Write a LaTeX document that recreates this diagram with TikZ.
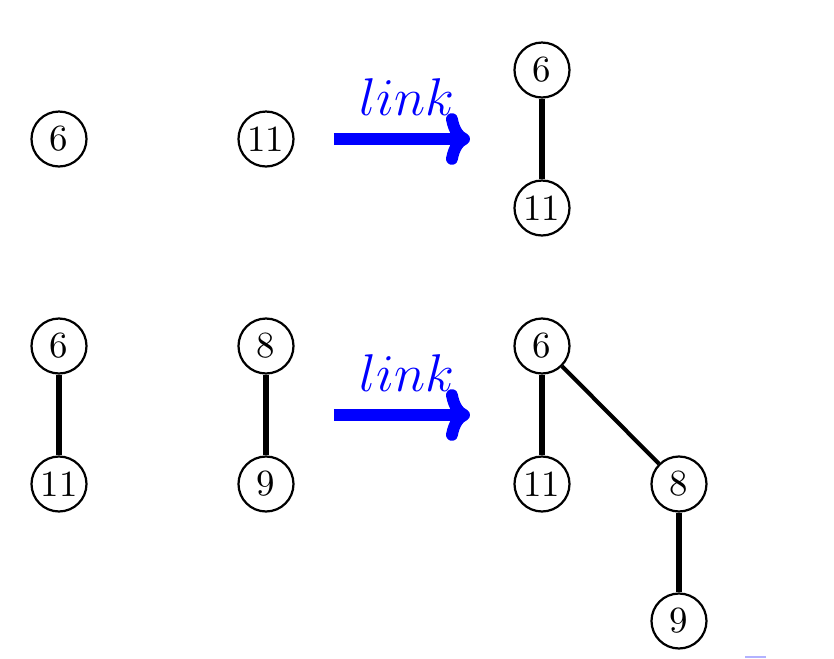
\documentclass[tikz,border=0pt]{standalone}
\usetikzlibrary{arrows.meta}
\begin{document}
\begin{tikzpicture}[x=0.271pt,y=-0.271pt,
  vert/.style={circle,draw,line width=0.6pt,minimum size=14.9pt,inner sep=0pt},
  edge/.style={line width=1.5pt},
  diagedge/.style={line width=1.1pt},
  linkarrow/.style={blue,line width=3.2pt,line cap=butt,-{To[round,length=6.5pt,width=14pt]}},
  linklabel/.style={blue,anchor=base,font=\Large}]
\useasboundingbox (0,0) rectangle (834,659);
% top row
\node[vert] (t6) at (59,139) {6};
\node[vert] (t11) at (266,139) {11};
\coordinate (ta1) at (334,139);
\coordinate (ta2) at (470,139);
\draw[linkarrow] (ta1) -- (ta2);
\node[linklabel] (tl) at (407,115) {$link$};
\node[vert] (r6) at (542,70) {6};
\node[vert] (r11) at (542,208) {11};
\draw[edge] (r6) -- (r11);
% bottom row
\node[vert] (b6) at (59,346) {6};
\node[vert] (b11) at (59,484) {11};
\draw[edge] (b6) -- (b11);
\node[vert] (b8) at (266,346) {8};
\node[vert] (b9) at (266,484) {9};
\draw[edge] (b8) -- (b9);
\coordinate (ba1) at (334,415);
\coordinate (ba2) at (470,415);
\draw[linkarrow] (ba1) -- (ba2);
\node[linklabel] (bl) at (407,391) {$link$};
\node[vert] (s6) at (542,346) {6};
\node[vert] (s11) at (542,484) {11};
\node[vert] (s8) at (679,484) {8};
\node[vert] (s9) at (679,621) {9};
\draw[edge] (s6) -- (s11);
\draw[diagedge] (s6) -- (s8);
\draw[edge] (s8) -- (s9);
% small mark
\fill[blue!30!white] (745,656) rectangle (766,658);
\end{tikzpicture}
\end{document}
